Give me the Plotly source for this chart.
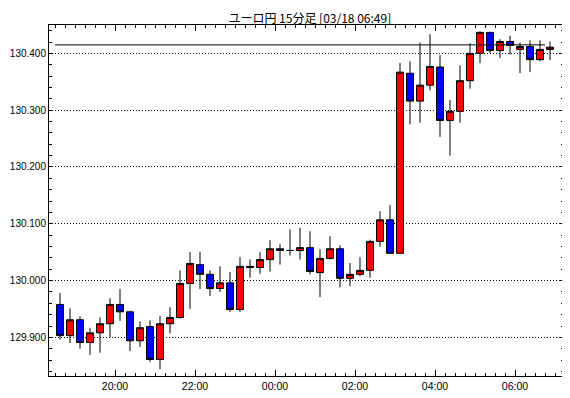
import pandas as pd
import plotly.graph_objects as go

title_text = "ユーロ円 15分足 [03/18 06:49]"
start_time = "2024-03-17 18:30"
n_bars = 50

open_ = [129.958, 129.903, 129.931, 129.891, 129.908, 129.924, 129.958, 129.945, 129.894, 129.919,
         129.861, 129.924, 129.935, 129.995, 130.028, 130.011, 129.986, 129.996, 129.949, 130.023,
         130.023, 130.037, 130.056, 130.053, 130.053, 130.058, 130.014, 130.039, 130.056, 130.004,
         130.011, 130.018, 130.069, 130.107, 130.048, 130.365, 130.316, 130.344, 130.376, 130.282,
         130.298, 130.352, 130.400, 130.437, 130.405, 130.421, 130.407, 130.412, 130.389, 130.407]
high = [129.978, 129.951, 129.937, 129.917, 129.935, 129.969, 129.985, 129.947, 129.928, 129.930,
        129.938, 129.953, 130.018, 130.050, 130.051, 130.018, 130.025, 130.015, 130.041, 130.037,
        130.050, 130.071, 130.064, 130.090, 130.093, 130.087, 130.055, 130.078, 130.062, 130.031,
        130.041, 130.072, 130.122, 130.133, 130.383, 130.386, 130.419, 130.434, 130.397, 130.318,
        130.379, 130.418, 130.439, 130.438, 130.425, 130.431, 130.419, 130.423, 130.423, 130.421]
low = [129.896, 129.890, 129.880, 129.869, 129.873, 129.900, 129.929, 129.876, 129.883, 129.857,
       129.844, 129.907, 129.933, 129.950, 129.985, 129.973, 129.980, 129.945, 129.945, 130.005,
       130.012, 130.016, 130.028, 130.044, 130.037, 130.011, 129.971, 130.037, 129.988, 129.990,
       130.008, 130.005, 130.059, 130.048, 130.048, 130.275, 130.278, 130.335, 130.253, 130.220,
       130.278, 130.338, 130.383, 130.400, 130.392, 130.398, 130.365, 130.367, 130.386, 130.388]
close = [129.903, 129.931, 129.891, 129.908, 129.924, 129.958, 129.945, 129.894, 129.917, 129.861,
         129.924, 129.935, 129.995, 130.030, 130.011, 129.986, 129.996, 129.949, 130.025, 130.025,
         130.037, 130.056, 130.053, 130.053, 130.058, 130.016, 130.039, 130.056, 130.004, 130.011,
         130.018, 130.069, 130.107, 130.048, 130.367, 130.316, 130.344, 130.377, 130.282, 130.298,
         130.352, 130.400, 130.437, 130.405, 130.421, 130.414, 130.412, 130.389, 130.407, 130.411]
ref_level = 130.415

y_range = [129.832, 130.450]
y_major = 0.1
y_minor = 0.02

bar_start = pd.date_range(start_time, periods=n_bars, freq="15min")
bar_center = bar_start + pd.Timedelta(minutes=7.5)
x_range = [pd.Timestamp("2024-03-17 18:21:00"), pd.Timestamp("2024-03-18 07:13:30")]

fig = go.Figure()
fig.add_trace(go.Candlestick(
    x=bar_center, open=open_, high=high, low=low, close=close,
    increasing=dict(fillcolor="#FF0000", line=dict(color="black", width=1)),
    decreasing=dict(fillcolor="#0000FF", line=dict(color="black", width=1)),
    whiskerwidth=0, showlegend=False, hoverinfo="skip",
))
fig.add_shape(type="line", xref="x", yref="y",
              x0=bar_start[0], x1=bar_start[-1], y0=ref_level, y1=ref_level,
              line=dict(color="black", width=1))

# page body has an 8px default margin; figure sized to fit the window
fig.update_layout(
    width=562, height=390,
    margin=dict(l=41, r=6, t=17, b=22, autoexpand=False),
    paper_bgcolor="white", plot_bgcolor="white",
    boxgap=0.3, boxgroupgap=0,
    title=dict(text=title_text, x=0.537, xanchor="center", y=0.973, yanchor="middle",
               font=dict(family="Noto Sans CJK JP", size=12, color="black")),
    font=dict(family="Liberation Sans", size=10, color="black"),
)
fig.update_xaxes(
    type="date", range=x_range, rangeslider=dict(visible=False), automargin=False,
    showgrid=False, zeroline=False,
    showline=True, linecolor="black", linewidth=1, mirror="allticks",
    ticks="inside", ticklen=6, tickcolor="black",
    tick0="2024-03-17 20:00", dtick=7200000, tickformat="%H:%M",
    minor=dict(ticks="inside", ticklen=3, dtick=900000, tick0="2024-03-17 20:00", tickcolor="black", showgrid=False),
    tickfont=dict(family="Liberation Sans", size=10.5, color="black"),
)
fig.update_yaxes(
    range=y_range, tick0=129.9, dtick=y_major, tickformat=".3f", automargin=False,
    showgrid=True, gridcolor="black", gridwidth=1, griddash="1px,2px",
    zeroline=False,
    showline=True, linecolor="black", linewidth=1, mirror="allticks",
    ticks="inside", ticklen=4, tickcolor="black",
    minor=dict(ticks="inside", ticklen=3, dtick=y_minor, tick0=129.9, tickcolor="black", showgrid=False),
    tickfont=dict(family="Liberation Sans", size=10, color="black"),
    ticklabelstandoff=0,
)

fig.write_html("out.html")
